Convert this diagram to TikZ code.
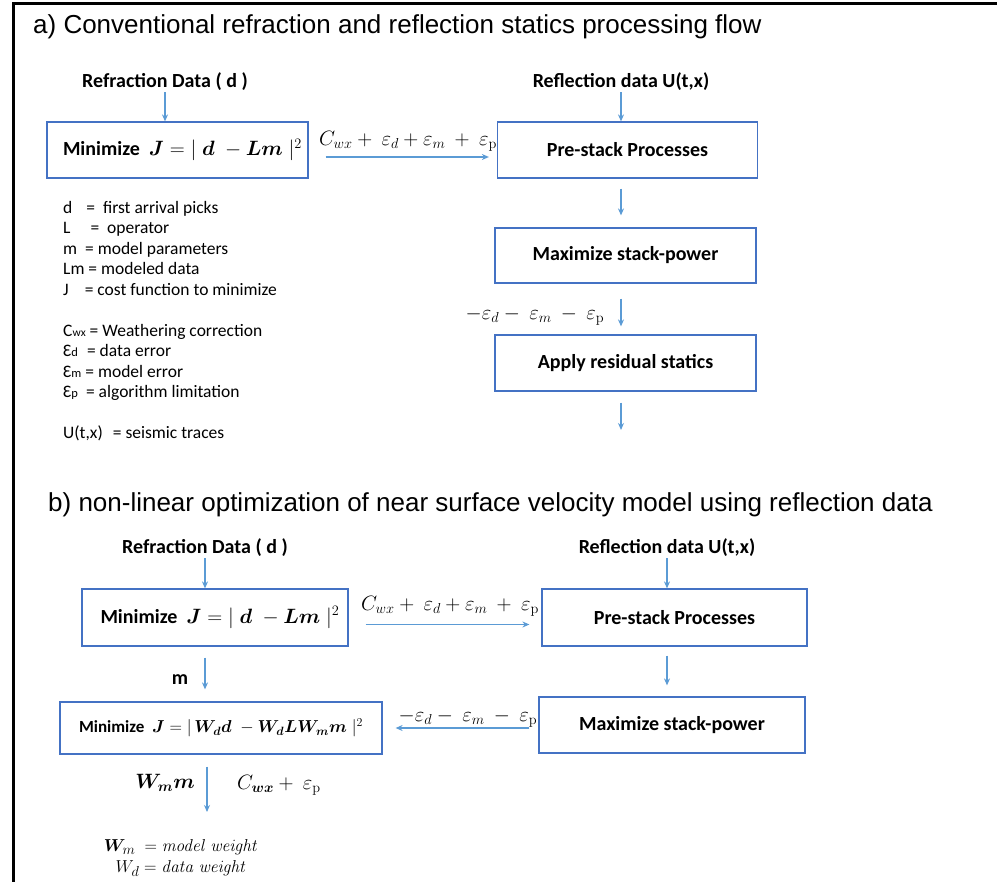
\documentclass[tikz,border=0pt]{standalone}
\usepackage{amsmath,bm}
\usepackage[no-math]{fontspec}
\setmainfont{Carlito}
\newfontfamily\titlefont{Liberation Sans}
\usetikzlibrary{arrows.meta,positioning}
\definecolor{flowblue}{RGB}{91,155,213}
\definecolor{boxblue}{RGB}{68,114,196}
\tikzset{
  procbox/.style={draw=boxblue, line width=1.2pt, minimum width=261pt, minimum height=56pt, inner sep=0pt, font=\fontsize{20}{24}\selectfont\bfseries},
  inlbl/.style={inner sep=1pt, font=\fontsize{20}{24}\selectfont\bfseries},
  mathlbl/.style={inner sep=1pt, font=\fontsize{21}{24}\selectfont},
  ttl/.style={anchor=west, inner sep=0pt, font=\titlefont\fontsize{26}{30}\selectfont},
  flow/.style={draw=flowblue, line width=1.6pt, -{Stealth[length=7pt,width=6pt]}}
}
\begin{document}
\begin{tikzpicture}[x=1pt,y=-1pt]
\useasboundingbox (0,0) rectangle (997,882);
\draw[line width=3pt] (13,882) -- (13,4) -- (997,4);

% a) conventional flow
\node (ttla) at (33,27) [ttl] {a) Conventional refraction and reflection statics processing flow};
\node (rfra) at (165,82) [inlbl] {Refraction Data ( d )};
\node (refa) at (621,82) [inlbl] {Reflection data U(t,x)};
\node (mina) at (177.5,150) [procbox] {\hspace*{10pt}Minimize \ $\bm{J} = |\;\bm{d}\; - \bm{L}\bm{m}\;|^2$};
\node (prea) at (627.5,150) [procbox, minimum width=260pt] {Pre-stack Processes};
\node (maxa) at (625.5,255.5) [procbox, minimum height=55pt] {Maximize stack-power};
\node (appa) at (625.5,363) [procbox] {Apply residual statics};
\node (erra) at (408,141) [mathlbl] {$C_{wx} +\ \varepsilon_d + \varepsilon_m\ +\ \varepsilon_{\mathrm{p}}$};
\node (errb) at (535,316) [mathlbl] {$-\varepsilon_d -\ \varepsilon_m\ -\ \varepsilon_{\mathrm{p}}$};
\coordinate (outa) at (621,430);

\draw[flow] (rfra.south) -- (rfra.south |- mina.north);
\draw[flow] (refa.south) -- (refa.south |- prea.north);
\draw[flow, shorten <=17pt, shorten >=8pt] ([yshift=-7pt]mina.east) -- ([yshift=-7pt]prea.west);
\draw[flow, shorten <=10pt, shorten >=12pt] (prea.south -| refa) -- (maxa.north -| refa);
\draw[flow, shorten <=15pt, shorten >=8pt] (maxa.south -| refa) -- (appa.north -| refa);
\draw[flow, shorten <=11pt] (appa.south -| refa) -- (outa);

% legend
\node (keya) at (63,201) [anchor=north west, inner sep=0pt, align=left, font=\fontsize{17.5}{20.5}\selectfont] {%
d\hspace{14pt}= \ first arrival picks\\
L\hspace{20pt}= \ operator\\
m\hspace{8pt}= model parameters\\
Lm = modeled data\\
J\hspace{16pt}= cost function to minimize\\[20.5pt]
C{\fontsize{11.5}{11}\selectfont wx} = Weathering correction\\
Ɛ{\fontsize{12.5}{12}\selectfont d}\hspace{9pt}= data error\\
Ɛ{\fontsize{12.5}{12}\selectfont m} = model error\\
Ɛ{\fontsize{12.5}{12}\selectfont p}\hspace{8pt}= algorithm limitation\\[20.5pt]
U(t,x)\hspace{10pt}= seismic traces};

% b) non-linear optimization
\node (ttlb) at (48,505) [ttl] {b) non-linear optimization of near surface velocity model using reflection data};
\node (rfrb) at (205,548) [inlbl] {Refraction Data ( d )};
\node (refb) at (667,548) [inlbl] {Reflection data U(t,x)};
\node (minb) at (215,617.5) [procbox, minimum width=266pt, minimum height=57pt] {\hspace*{10pt}Minimize \ $\bm{J} = |\;\bm{d}\; - \bm{L}\bm{m}\;|^2$};
\node (preb) at (674.5,617.5) [procbox, minimum width=265pt, minimum height=57pt] {Pre-stack Processes};
\node (maxb) at (672,725) [procbox, minimum width=266pt] {Maximize stack-power};
\node (wtdb) at (221,728) [procbox, minimum width=322pt, minimum height=52pt, font=\fontsize{17}{21}\selectfont\bfseries] {Minimize \ $\bm{J} = |\,\bm{W}_{\bm{d}}\bm{d}\; - \bm{W}_{\bm{d}}\bm{L}\bm{W}_{\bm{m}}\bm{m}\;|^2$};
\node (errc) at (450,606) [mathlbl] {$C_{wx} +\ \varepsilon_d + \varepsilon_m\ +\ \varepsilon_{\mathrm{p}}$};
\node (errd) at (468,718) [mathlbl] {$-\varepsilon_d -\ \varepsilon_m\ -\ \varepsilon_{\mathrm{p}}$};
\node (mlbl) at (180,680) [inlbl] {m};
\node (wmlb) at (165,783) [mathlbl] {$\bm{W_m m}$};
\node (cwxb) at (279,785) [mathlbl] {$C_{\bm{wx}} +\ \varepsilon_{\mathrm{p}}$};
\coordinate (outb) at (207,812);

\draw[flow] (rfrb.south) -- (rfrb.south |- minb.north);
\draw[flow] (refb.south) -- (refb.south |- preb.north);
\draw[flow, shorten <=17pt, shorten >=12pt] ([yshift=-7pt]minb.east) -- ([yshift=-7pt]preb.west);
\draw[flow, shorten <=9pt, shorten >=11pt] (preb.south -| refb) -- (maxb.north -| refb);
\draw[flow, shorten <=9pt, shorten >=13pt] (maxb.west |- wtdb.east) -- (wtdb.east);
\draw[flow, shorten <=11pt, shorten >=12pt] (minb.south -| rfrb) -- (wtdb.north -| rfrb);
\draw[flow, shorten <=12pt] (wtdb.south -| outb) -- (outb);

% weights
\node (keyb) at (181,858) [align=center, inner sep=0pt, font=\fontsize{19}{21}\selectfont] {$\bm{W}_{m}\ = \mathit{model\ weight}$\\ $W_d = \mathit{data\ weight}$};
\end{tikzpicture}
\end{document}
